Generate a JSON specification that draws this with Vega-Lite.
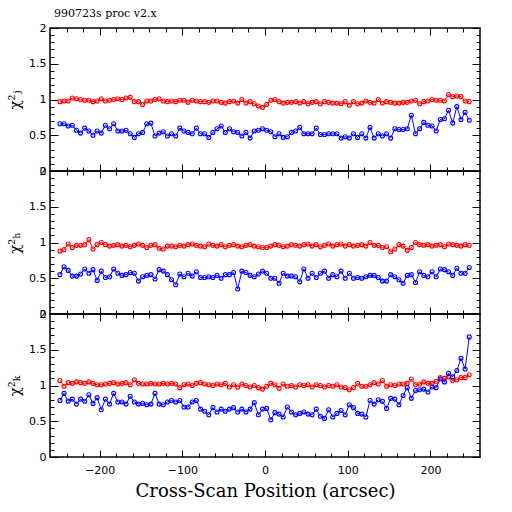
{
  "$schema": "https://vega.github.io/schema/vega-lite/v6.json",
  "autosize": {"type": "pad"},
  "padding": {"left": 6, "top": 7, "right": 0, "bottom": 0},
  "background": "white",
  "spacing": 0,
  "bounds": "flush",
  "config": {
    "view": {"stroke": "black", "strokeWidth": 1.5},
    "axis": {
      "domain": false,
      "grid": false,
      "tickColor": "black",
      "tickWidth": 1,
      "labelColor": "black",
      "labelFont": "DejaVu Sans",
      "labelFontSize": 11,
      "titleColor": "black",
      "titleFontWeight": "normal"
    }
  },
  "datasets": {
    "J": [
      {"x":-248,"s":"r","y":0.97},{"x":-243,"s":"r","y":0.98},{"x":-238,"s":"r","y":0.98},{"x":-233,"s":"r","y":1.02},{"x":-228,"s":"r","y":1.01},{"x":-223,"s":"r","y":1.00},{"x":-218,"s":"r","y":0.99},{"x":-213,"s":"r","y":0.99},{"x":-208,"s":"r","y":0.97},{"x":-203,"s":"r","y":0.98},
      {"x":-198,"s":"r","y":1.01},{"x":-193,"s":"r","y":0.98},{"x":-188,"s":"r","y":0.99},{"x":-183,"s":"r","y":1.00},{"x":-178,"s":"r","y":1.01},{"x":-173,"s":"r","y":1.00},{"x":-168,"s":"r","y":1.02},{"x":-163,"s":"r","y":1.03},{"x":-158,"s":"r","y":0.97},{"x":-153,"s":"r","y":0.97},
      {"x":-148,"s":"r","y":0.93},{"x":-143,"s":"r","y":0.98},{"x":-138,"s":"r","y":0.98},{"x":-133,"s":"r","y":1.00},{"x":-128,"s":"r","y":1.01},{"x":-123,"s":"r","y":0.98},{"x":-118,"s":"r","y":0.97},{"x":-113,"s":"r","y":0.98},{"x":-108,"s":"r","y":0.97},{"x":-103,"s":"r","y":0.99},
      {"x":-98,"s":"r","y":0.99},{"x":-93,"s":"r","y":0.96},{"x":-88,"s":"r","y":0.99},{"x":-83,"s":"r","y":0.98},{"x":-78,"s":"r","y":0.97},{"x":-73,"s":"r","y":0.97},{"x":-68,"s":"r","y":0.96},{"x":-63,"s":"r","y":0.98},{"x":-58,"s":"r","y":0.98},{"x":-53,"s":"r","y":0.96},
      {"x":-48,"s":"r","y":0.95},{"x":-43,"s":"r","y":0.97},{"x":-38,"s":"r","y":0.98},{"x":-33,"s":"r","y":0.95},{"x":-28,"s":"r","y":1.00},{"x":-23,"s":"r","y":0.95},{"x":-18,"s":"r","y":0.97},{"x":-13,"s":"r","y":0.94},{"x":-8,"s":"r","y":0.91},{"x":-3,"s":"r","y":0.89},
      {"x":2,"s":"r","y":0.93},{"x":7,"s":"r","y":0.99},{"x":12,"s":"r","y":1.00},{"x":17,"s":"r","y":0.97},{"x":22,"s":"r","y":0.95},{"x":27,"s":"r","y":0.96},{"x":32,"s":"r","y":0.96},{"x":37,"s":"r","y":0.97},{"x":42,"s":"r","y":0.95},{"x":47,"s":"r","y":0.97},
      {"x":52,"s":"r","y":0.94},{"x":57,"s":"r","y":0.96},{"x":62,"s":"r","y":0.97},{"x":67,"s":"r","y":0.94},{"x":72,"s":"r","y":0.97},{"x":77,"s":"r","y":0.96},{"x":82,"s":"r","y":0.95},{"x":87,"s":"r","y":0.95},{"x":92,"s":"r","y":0.94},{"x":97,"s":"r","y":0.97},
      {"x":102,"s":"r","y":0.92},{"x":107,"s":"r","y":0.97},{"x":112,"s":"r","y":0.94},{"x":117,"s":"r","y":0.95},{"x":122,"s":"r","y":0.98},{"x":127,"s":"r","y":0.96},{"x":132,"s":"r","y":0.95},{"x":137,"s":"r","y":1.00},{"x":142,"s":"r","y":0.95},{"x":147,"s":"r","y":0.97},
      {"x":152,"s":"r","y":0.96},{"x":157,"s":"r","y":0.95},{"x":162,"s":"r","y":0.95},{"x":167,"s":"r","y":0.96},{"x":172,"s":"r","y":0.96},{"x":177,"s":"r","y":0.98},{"x":182,"s":"r","y":0.99},{"x":187,"s":"r","y":0.94},{"x":192,"s":"r","y":0.97},{"x":197,"s":"r","y":0.98},
      {"x":202,"s":"r","y":1.00},{"x":207,"s":"r","y":0.99},{"x":212,"s":"r","y":0.99},{"x":217,"s":"r","y":0.98},{"x":222,"s":"r","y":1.07},{"x":227,"s":"r","y":1.04},{"x":232,"s":"r","y":1.05},{"x":237,"s":"r","y":1.04},{"x":242,"s":"r","y":0.98},{"x":247,"s":"r","y":0.97},
      {"x":-248,"s":"b","y":0.66},{"x":-243,"s":"b","y":0.66},{"x":-238,"s":"b","y":0.63},{"x":-233,"s":"b","y":0.64},{"x":-228,"s":"b","y":0.57},{"x":-223,"s":"b","y":0.53},{"x":-218,"s":"b","y":0.60},{"x":-213,"s":"b","y":0.56},{"x":-208,"s":"b","y":0.50},{"x":-203,"s":"b","y":0.56},
      {"x":-198,"s":"b","y":0.53},{"x":-193,"s":"b","y":0.64},{"x":-188,"s":"b","y":0.59},{"x":-183,"s":"b","y":0.66},{"x":-178,"s":"b","y":0.56},{"x":-173,"s":"b","y":0.56},{"x":-168,"s":"b","y":0.57},{"x":-163,"s":"b","y":0.52},{"x":-158,"s":"b","y":0.47},{"x":-153,"s":"b","y":0.52},
      {"x":-148,"s":"b","y":0.54},{"x":-143,"s":"b","y":0.66},{"x":-138,"s":"b","y":0.67},{"x":-133,"s":"b","y":0.49},{"x":-128,"s":"b","y":0.53},{"x":-123,"s":"b","y":0.55},{"x":-118,"s":"b","y":0.49},{"x":-113,"s":"b","y":0.52},{"x":-108,"s":"b","y":0.49},{"x":-103,"s":"b","y":0.60},
      {"x":-98,"s":"b","y":0.56},{"x":-93,"s":"b","y":0.54},{"x":-88,"s":"b","y":0.52},{"x":-83,"s":"b","y":0.60},{"x":-78,"s":"b","y":0.52},{"x":-73,"s":"b","y":0.52},{"x":-68,"s":"b","y":0.47},{"x":-63,"s":"b","y":0.54},{"x":-58,"s":"b","y":0.59},{"x":-53,"s":"b","y":0.63},
      {"x":-48,"s":"b","y":0.54},{"x":-43,"s":"b","y":0.59},{"x":-38,"s":"b","y":0.55},{"x":-33,"s":"b","y":0.54},{"x":-28,"s":"b","y":0.49},{"x":-23,"s":"b","y":0.54},{"x":-18,"s":"b","y":0.46},{"x":-13,"s":"b","y":0.56},{"x":-8,"s":"b","y":0.57},{"x":-3,"s":"b","y":0.59},
      {"x":2,"s":"b","y":0.57},{"x":7,"s":"b","y":0.55},{"x":12,"s":"b","y":0.48},{"x":17,"s":"b","y":0.52},{"x":22,"s":"b","y":0.47},{"x":27,"s":"b","y":0.48},{"x":32,"s":"b","y":0.54},{"x":37,"s":"b","y":0.56},{"x":42,"s":"b","y":0.61},{"x":47,"s":"b","y":0.52},
      {"x":52,"s":"b","y":0.52},{"x":57,"s":"b","y":0.52},{"x":62,"s":"b","y":0.60},{"x":67,"s":"b","y":0.51},{"x":72,"s":"b","y":0.51},{"x":77,"s":"b","y":0.52},{"x":82,"s":"b","y":0.52},{"x":87,"s":"b","y":0.52},{"x":92,"s":"b","y":0.46},{"x":97,"s":"b","y":0.48},
      {"x":102,"s":"b","y":0.46},{"x":107,"s":"b","y":0.52},{"x":112,"s":"b","y":0.47},{"x":117,"s":"b","y":0.52},{"x":122,"s":"b","y":0.46},{"x":127,"s":"b","y":0.61},{"x":132,"s":"b","y":0.46},{"x":137,"s":"b","y":0.52},{"x":142,"s":"b","y":0.49},{"x":147,"s":"b","y":0.52},
      {"x":152,"s":"b","y":0.46},{"x":157,"s":"b","y":0.59},{"x":162,"s":"b","y":0.58},{"x":167,"s":"b","y":0.58},{"x":172,"s":"b","y":0.59},{"x":177,"s":"b","y":0.78},{"x":182,"s":"b","y":0.52},{"x":187,"s":"b","y":0.59},{"x":192,"s":"b","y":0.68},{"x":197,"s":"b","y":0.64},
      {"x":202,"s":"b","y":0.63},{"x":207,"s":"b","y":0.56},{"x":212,"s":"b","y":0.72},{"x":217,"s":"b","y":0.73},{"x":222,"s":"b","y":0.85},{"x":227,"s":"b","y":0.67},{"x":232,"s":"b","y":0.90},{"x":237,"s":"b","y":0.72},{"x":242,"s":"b","y":0.82},{"x":247,"s":"b","y":0.71}
    ],
    "H": [
      {"x":-248,"s":"r","y":0.88},{"x":-243,"s":"r","y":0.90},{"x":-238,"s":"r","y":0.98},{"x":-233,"s":"r","y":0.93},{"x":-228,"s":"r","y":0.96},{"x":-223,"s":"r","y":0.96},{"x":-218,"s":"r","y":0.97},{"x":-213,"s":"r","y":1.04},{"x":-208,"s":"r","y":0.91},{"x":-203,"s":"r","y":0.97},
      {"x":-198,"s":"r","y":1.00},{"x":-193,"s":"r","y":0.97},{"x":-188,"s":"r","y":0.95},{"x":-183,"s":"r","y":0.96},{"x":-178,"s":"r","y":0.97},{"x":-173,"s":"r","y":0.95},{"x":-168,"s":"r","y":0.96},{"x":-163,"s":"r","y":0.94},{"x":-158,"s":"r","y":0.96},{"x":-153,"s":"r","y":0.98},
      {"x":-148,"s":"r","y":0.96},{"x":-143,"s":"r","y":0.93},{"x":-138,"s":"r","y":0.96},{"x":-133,"s":"r","y":0.97},{"x":-128,"s":"r","y":0.92},{"x":-123,"s":"r","y":0.91},{"x":-118,"s":"r","y":0.95},{"x":-113,"s":"r","y":0.95},{"x":-108,"s":"r","y":0.94},{"x":-103,"s":"r","y":0.96},
      {"x":-98,"s":"r","y":0.95},{"x":-93,"s":"r","y":0.97},{"x":-88,"s":"r","y":0.98},{"x":-83,"s":"r","y":0.96},{"x":-78,"s":"r","y":0.95},{"x":-73,"s":"r","y":0.94},{"x":-68,"s":"r","y":0.98},{"x":-63,"s":"r","y":0.96},{"x":-58,"s":"r","y":0.95},{"x":-53,"s":"r","y":0.97},
      {"x":-48,"s":"r","y":0.94},{"x":-43,"s":"r","y":0.96},{"x":-38,"s":"r","y":0.97},{"x":-33,"s":"r","y":0.95},{"x":-28,"s":"r","y":0.94},{"x":-23,"s":"r","y":0.96},{"x":-18,"s":"r","y":0.97},{"x":-13,"s":"r","y":0.95},{"x":-8,"s":"r","y":0.94},{"x":-3,"s":"r","y":0.93},
      {"x":2,"s":"r","y":0.93},{"x":7,"s":"r","y":0.95},{"x":12,"s":"r","y":0.97},{"x":17,"s":"r","y":0.96},{"x":22,"s":"r","y":0.94},{"x":27,"s":"r","y":0.95},{"x":32,"s":"r","y":0.97},{"x":37,"s":"r","y":0.96},{"x":42,"s":"r","y":0.95},{"x":47,"s":"r","y":0.97},
      {"x":52,"s":"r","y":0.98},{"x":57,"s":"r","y":0.95},{"x":62,"s":"r","y":0.97},{"x":67,"s":"r","y":0.94},{"x":72,"s":"r","y":0.96},{"x":77,"s":"r","y":0.98},{"x":82,"s":"r","y":0.95},{"x":87,"s":"r","y":0.97},{"x":92,"s":"r","y":0.98},{"x":97,"s":"r","y":0.95},
      {"x":102,"s":"r","y":0.97},{"x":107,"s":"r","y":0.95},{"x":112,"s":"r","y":0.96},{"x":117,"s":"r","y":0.97},{"x":122,"s":"r","y":0.95},{"x":127,"s":"r","y":1.00},{"x":132,"s":"r","y":0.96},{"x":137,"s":"r","y":0.96},{"x":142,"s":"r","y":0.93},{"x":147,"s":"r","y":0.94},
      {"x":152,"s":"r","y":0.87},{"x":157,"s":"r","y":0.91},{"x":162,"s":"r","y":0.97},{"x":167,"s":"r","y":0.95},{"x":172,"s":"r","y":0.89},{"x":177,"s":"r","y":0.93},{"x":182,"s":"r","y":1.00},{"x":187,"s":"r","y":0.97},{"x":192,"s":"r","y":0.96},{"x":197,"s":"r","y":0.97},
      {"x":202,"s":"r","y":0.95},{"x":207,"s":"r","y":0.96},{"x":212,"s":"r","y":0.97},{"x":217,"s":"r","y":0.94},{"x":222,"s":"r","y":0.98},{"x":227,"s":"r","y":0.97},{"x":232,"s":"r","y":0.96},{"x":237,"s":"r","y":0.95},{"x":242,"s":"r","y":0.97},{"x":247,"s":"r","y":0.96},
      {"x":-248,"s":"b","y":0.55},{"x":-243,"s":"b","y":0.66},{"x":-238,"s":"b","y":0.61},{"x":-233,"s":"b","y":0.53},{"x":-228,"s":"b","y":0.53},{"x":-223,"s":"b","y":0.56},{"x":-218,"s":"b","y":0.63},{"x":-213,"s":"b","y":0.57},{"x":-208,"s":"b","y":0.62},{"x":-203,"s":"b","y":0.47},
      {"x":-198,"s":"b","y":0.60},{"x":-193,"s":"b","y":0.51},{"x":-188,"s":"b","y":0.52},{"x":-183,"s":"b","y":0.63},{"x":-178,"s":"b","y":0.57},{"x":-173,"s":"b","y":0.54},{"x":-168,"s":"b","y":0.55},{"x":-163,"s":"b","y":0.58},{"x":-158,"s":"b","y":0.57},{"x":-153,"s":"b","y":0.46},
      {"x":-148,"s":"b","y":0.52},{"x":-143,"s":"b","y":0.54},{"x":-138,"s":"b","y":0.55},{"x":-133,"s":"b","y":0.49},{"x":-128,"s":"b","y":0.62},{"x":-123,"s":"b","y":0.60},{"x":-118,"s":"b","y":0.55},{"x":-113,"s":"b","y":0.48},{"x":-108,"s":"b","y":0.41},{"x":-103,"s":"b","y":0.56},
      {"x":-98,"s":"b","y":0.52},{"x":-93,"s":"b","y":0.57},{"x":-88,"s":"b","y":0.53},{"x":-83,"s":"b","y":0.59},{"x":-78,"s":"b","y":0.51},{"x":-73,"s":"b","y":0.51},{"x":-68,"s":"b","y":0.52},{"x":-63,"s":"b","y":0.51},{"x":-58,"s":"b","y":0.54},{"x":-53,"s":"b","y":0.50},
      {"x":-48,"s":"b","y":0.55},{"x":-43,"s":"b","y":0.55},{"x":-38,"s":"b","y":0.58},{"x":-33,"s":"b","y":0.35},{"x":-28,"s":"b","y":0.60},{"x":-23,"s":"b","y":0.58},{"x":-18,"s":"b","y":0.54},{"x":-13,"s":"b","y":0.52},{"x":-8,"s":"b","y":0.56},{"x":-3,"s":"b","y":0.60},
      {"x":2,"s":"b","y":0.57},{"x":7,"s":"b","y":0.50},{"x":12,"s":"b","y":0.50},{"x":17,"s":"b","y":0.43},{"x":22,"s":"b","y":0.57},{"x":27,"s":"b","y":0.53},{"x":32,"s":"b","y":0.53},{"x":37,"s":"b","y":0.52},{"x":42,"s":"b","y":0.45},{"x":47,"s":"b","y":0.63},
      {"x":52,"s":"b","y":0.50},{"x":57,"s":"b","y":0.57},{"x":62,"s":"b","y":0.51},{"x":67,"s":"b","y":0.57},{"x":72,"s":"b","y":0.60},{"x":77,"s":"b","y":0.50},{"x":82,"s":"b","y":0.55},{"x":87,"s":"b","y":0.52},{"x":92,"s":"b","y":0.60},{"x":97,"s":"b","y":0.50},
      {"x":102,"s":"b","y":0.57},{"x":107,"s":"b","y":0.50},{"x":112,"s":"b","y":0.51},{"x":117,"s":"b","y":0.50},{"x":122,"s":"b","y":0.52},{"x":127,"s":"b","y":0.54},{"x":132,"s":"b","y":0.54},{"x":137,"s":"b","y":0.51},{"x":142,"s":"b","y":0.46},{"x":147,"s":"b","y":0.46},
      {"x":152,"s":"b","y":0.55},{"x":157,"s":"b","y":0.52},{"x":162,"s":"b","y":0.48},{"x":167,"s":"b","y":0.43},{"x":172,"s":"b","y":0.54},{"x":177,"s":"b","y":0.55},{"x":182,"s":"b","y":0.44},{"x":187,"s":"b","y":0.59},{"x":192,"s":"b","y":0.54},{"x":197,"s":"b","y":0.52},
      {"x":202,"s":"b","y":0.59},{"x":207,"s":"b","y":0.52},{"x":212,"s":"b","y":0.63},{"x":217,"s":"b","y":0.62},{"x":222,"s":"b","y":0.59},{"x":227,"s":"b","y":0.54},{"x":232,"s":"b","y":0.64},{"x":237,"s":"b","y":0.57},{"x":242,"s":"b","y":0.57},{"x":247,"s":"b","y":0.65}
    ],
    "K": [
      {"x":-248,"s":"r","y":1.07},{"x":-243,"s":"r","y":0.99},{"x":-238,"s":"r","y":1.04},{"x":-233,"s":"r","y":1.03},{"x":-228,"s":"r","y":1.05},{"x":-223,"s":"r","y":1.04},{"x":-218,"s":"r","y":1.03},{"x":-213,"s":"r","y":1.05},{"x":-208,"s":"r","y":1.03},{"x":-203,"s":"r","y":1.01},
      {"x":-198,"s":"r","y":1.01},{"x":-193,"s":"r","y":1.02},{"x":-188,"s":"r","y":1.03},{"x":-183,"s":"r","y":1.04},{"x":-178,"s":"r","y":1.02},{"x":-173,"s":"r","y":1.03},{"x":-168,"s":"r","y":1.04},{"x":-163,"s":"r","y":1.01},{"x":-158,"s":"r","y":1.08},{"x":-153,"s":"r","y":1.03},
      {"x":-148,"s":"r","y":1.02},{"x":-143,"s":"r","y":1.02},{"x":-138,"s":"r","y":1.03},{"x":-133,"s":"r","y":1.02},{"x":-128,"s":"r","y":1.02},{"x":-123,"s":"r","y":1.03},{"x":-118,"s":"r","y":1.02},{"x":-113,"s":"r","y":1.03},{"x":-108,"s":"r","y":1.02},{"x":-103,"s":"r","y":0.97},
      {"x":-98,"s":"r","y":1.01},{"x":-93,"s":"r","y":1.02},{"x":-88,"s":"r","y":1.00},{"x":-83,"s":"r","y":1.03},{"x":-78,"s":"r","y":1.04},{"x":-73,"s":"r","y":1.02},{"x":-68,"s":"r","y":1.01},{"x":-63,"s":"r","y":1.00},{"x":-58,"s":"r","y":1.02},{"x":-53,"s":"r","y":1.01},
      {"x":-48,"s":"r","y":1.03},{"x":-43,"s":"r","y":0.98},{"x":-38,"s":"r","y":1.01},{"x":-33,"s":"r","y":0.98},{"x":-28,"s":"r","y":1.02},{"x":-23,"s":"r","y":1.00},{"x":-18,"s":"r","y":0.98},{"x":-13,"s":"r","y":1.00},{"x":-8,"s":"r","y":0.97},{"x":-3,"s":"r","y":0.95},
      {"x":2,"s":"r","y":0.99},{"x":7,"s":"r","y":1.03},{"x":12,"s":"r","y":1.01},{"x":17,"s":"r","y":0.96},{"x":22,"s":"r","y":1.02},{"x":27,"s":"r","y":0.99},{"x":32,"s":"r","y":1.00},{"x":37,"s":"r","y":0.98},{"x":42,"s":"r","y":1.01},{"x":47,"s":"r","y":1.00},
      {"x":52,"s":"r","y":1.01},{"x":57,"s":"r","y":0.98},{"x":62,"s":"r","y":1.01},{"x":67,"s":"r","y":1.00},{"x":72,"s":"r","y":0.98},{"x":77,"s":"r","y":1.00},{"x":82,"s":"r","y":0.99},{"x":87,"s":"r","y":1.01},{"x":92,"s":"r","y":0.98},{"x":97,"s":"r","y":0.97},
      {"x":102,"s":"r","y":0.94},{"x":107,"s":"r","y":0.97},{"x":112,"s":"r","y":1.03},{"x":117,"s":"r","y":0.99},{"x":122,"s":"r","y":0.99},{"x":127,"s":"r","y":1.01},{"x":132,"s":"r","y":1.04},{"x":137,"s":"r","y":1.02},{"x":142,"s":"r","y":1.07},{"x":147,"s":"r","y":0.99},
      {"x":152,"s":"r","y":1.01},{"x":157,"s":"r","y":1.00},{"x":162,"s":"r","y":1.02},{"x":167,"s":"r","y":1.02},{"x":172,"s":"r","y":1.03},{"x":177,"s":"r","y":1.09},{"x":182,"s":"r","y":1.01},{"x":187,"s":"r","y":1.02},{"x":192,"s":"r","y":1.05},{"x":197,"s":"r","y":1.03},
      {"x":202,"s":"r","y":1.03},{"x":207,"s":"r","y":1.06},{"x":212,"s":"r","y":1.11},{"x":217,"s":"r","y":1.10},{"x":222,"s":"r","y":1.12},{"x":227,"s":"r","y":1.07},{"x":232,"s":"r","y":1.08},{"x":237,"s":"r","y":1.11},{"x":242,"s":"r","y":1.11},{"x":247,"s":"r","y":1.15},
      {"x":-248,"s":"b","y":0.79},{"x":-243,"s":"b","y":0.89},{"x":-238,"s":"b","y":0.78},{"x":-233,"s":"b","y":0.81},{"x":-228,"s":"b","y":0.74},{"x":-223,"s":"b","y":0.81},{"x":-218,"s":"b","y":0.78},{"x":-213,"s":"b","y":0.87},{"x":-208,"s":"b","y":0.75},{"x":-203,"s":"b","y":0.83},
      {"x":-198,"s":"b","y":0.66},{"x":-193,"s":"b","y":0.81},{"x":-188,"s":"b","y":0.74},{"x":-183,"s":"b","y":0.89},{"x":-178,"s":"b","y":0.77},{"x":-173,"s":"b","y":0.77},{"x":-168,"s":"b","y":0.74},{"x":-163,"s":"b","y":0.85},{"x":-158,"s":"b","y":0.77},{"x":-153,"s":"b","y":0.74},
      {"x":-148,"s":"b","y":0.75},{"x":-143,"s":"b","y":0.73},{"x":-138,"s":"b","y":0.74},{"x":-133,"s":"b","y":0.89},{"x":-128,"s":"b","y":0.74},{"x":-123,"s":"b","y":0.73},{"x":-118,"s":"b","y":0.77},{"x":-113,"s":"b","y":0.79},{"x":-108,"s":"b","y":0.77},{"x":-103,"s":"b","y":0.79},
      {"x":-98,"s":"b","y":0.70},{"x":-93,"s":"b","y":0.70},{"x":-88,"s":"b","y":0.77},{"x":-83,"s":"b","y":0.79},{"x":-78,"s":"b","y":0.67},{"x":-73,"s":"b","y":0.64},{"x":-68,"s":"b","y":0.59},{"x":-63,"s":"b","y":0.69},{"x":-58,"s":"b","y":0.63},{"x":-53,"s":"b","y":0.67},
      {"x":-48,"s":"b","y":0.64},{"x":-43,"s":"b","y":0.67},{"x":-38,"s":"b","y":0.69},{"x":-33,"s":"b","y":0.63},{"x":-28,"s":"b","y":0.67},{"x":-23,"s":"b","y":0.63},{"x":-18,"s":"b","y":0.67},{"x":-13,"s":"b","y":0.76},{"x":-8,"s":"b","y":0.59},{"x":-3,"s":"b","y":0.67},
      {"x":2,"s":"b","y":0.68},{"x":7,"s":"b","y":0.52},{"x":12,"s":"b","y":0.62},{"x":17,"s":"b","y":0.60},{"x":22,"s":"b","y":0.56},{"x":27,"s":"b","y":0.70},{"x":32,"s":"b","y":0.63},{"x":37,"s":"b","y":0.59},{"x":42,"s":"b","y":0.61},{"x":47,"s":"b","y":0.63},
      {"x":52,"s":"b","y":0.60},{"x":57,"s":"b","y":0.59},{"x":62,"s":"b","y":0.67},{"x":67,"s":"b","y":0.57},{"x":72,"s":"b","y":0.54},{"x":77,"s":"b","y":0.66},{"x":82,"s":"b","y":0.56},{"x":87,"s":"b","y":0.61},{"x":92,"s":"b","y":0.65},{"x":97,"s":"b","y":0.59},
      {"x":102,"s":"b","y":0.73},{"x":107,"s":"b","y":0.69},{"x":112,"s":"b","y":0.61},{"x":117,"s":"b","y":0.60},{"x":122,"s":"b","y":0.56},{"x":127,"s":"b","y":0.79},{"x":132,"s":"b","y":0.74},{"x":137,"s":"b","y":0.80},{"x":142,"s":"b","y":0.78},{"x":147,"s":"b","y":0.68},
      {"x":152,"s":"b","y":0.82},{"x":157,"s":"b","y":0.81},{"x":162,"s":"b","y":0.73},{"x":167,"s":"b","y":0.86},{"x":172,"s":"b","y":0.97},{"x":177,"s":"b","y":0.82},{"x":182,"s":"b","y":0.93},{"x":187,"s":"b","y":0.94},{"x":192,"s":"b","y":0.95},{"x":197,"s":"b","y":0.91},
      {"x":202,"s":"b","y":0.98},{"x":207,"s":"b","y":0.97},{"x":212,"s":"b","y":1.09},{"x":217,"s":"b","y":1.05},{"x":222,"s":"b","y":1.17},{"x":227,"s":"b","y":1.12},{"x":232,"s":"b","y":1.21},{"x":237,"s":"b","y":1.38},{"x":242,"s":"b","y":1.23},{"x":247,"s":"b","y":1.68}
    ]
  },
  "vconcat": [
    {
      "data": {"name": "J"},
      "width": 430,
      "height": 143,
      "title": {"text": "990723s proc v2.x", "anchor": "start", "frame": "group", "dx": 4, "offset": 3, "font": "DejaVu Serif", "fontSize": 11, "fontWeight": "normal", "color": "black"},
      "layer": [
        {
          "mark": {"type": "line", "strokeWidth": 1, "point": {"filled": false, "size": 16, "strokeWidth": 1.1}},
          "encoding": {
            "x": {"field": "x", "type": "quantitative", "scale": {"domain": [-260, 260], "nice": false},
              "axis": {"orient": "bottom", "labels": false, "title": null, "values": [-240,-220,-200,-180,-160,-140,-120,-100,-80,-60,-40,-20,0,20,40,60,80,100,120,140,160,180,200,220,240],
                "tickSize": {"condition": {"test": "datum.value % 100 === 0", "value": -7}, "value": -4}}},
            "y": {"field": "y", "type": "quantitative", "scale": {"domain": [0, 2], "nice": false, "zero": false},
              "axis": {"orient": "left", "title": "χ²ⱼ", "titleFont": "DejaVu Serif", "titleFontSize": 15, "titlePadding": 6, "labelPadding": 12,
                "values": [0,0.1,0.2,0.3,0.4,0.5,0.6,0.7,0.8,0.9,1,1.1,1.2,1.3,1.4,1.5,1.6,1.7,1.8,1.9,2],
                "labelExpr": "abs(datum.value*2 - round(datum.value*2)) < 0.001 ? '' + datum.value : ''",
                "tickSize": {"condition": {"test": "abs(datum.value*2 - round(datum.value*2)) < 0.001", "value": -8}, "value": -4}}},
            "color": {"field": "s", "type": "nominal", "scale": {"domain": ["r", "b"], "range": ["#ff0000", "#0000ff"]}, "legend": null}
          }
        },
        {
          "mark": {"type": "line", "opacity": 0},
          "encoding": {
            "x": {"field": "x", "type": "quantitative", "scale": {"domain": [-260, 260], "nice": false},
              "axis": {"orient": "top", "labels": false, "title": null, "values": [-240,-220,-200,-180,-160,-140,-120,-100,-80,-60,-40,-20,0,20,40,60,80,100,120,140,160,180,200,220,240],
                "tickSize": {"condition": {"test": "datum.value % 100 === 0", "value": -7}, "value": -4}}},
            "y": {"field": "y", "type": "quantitative", "scale": {"domain": [0, 2], "nice": false, "zero": false},
              "axis": {"orient": "right", "labels": false, "title": null,
                "values": [0,0.1,0.2,0.3,0.4,0.5,0.6,0.7,0.8,0.9,1,1.1,1.2,1.3,1.4,1.5,1.6,1.7,1.8,1.9,2],
                "tickSize": {"condition": {"test": "abs(datum.value*2 - round(datum.value*2)) < 0.001", "value": -8}, "value": -4}}},
            "detail": {"field": "s"}
          }
        }
      ],
      "resolve": {"axis": {"x": "independent", "y": "independent"}}
    },
    {
      "data": {"name": "H"},
      "width": 430,
      "height": 143,
      "layer": [
        {
          "mark": {"type": "line", "strokeWidth": 1, "point": {"filled": false, "size": 16, "strokeWidth": 1.1}},
          "encoding": {
            "x": {"field": "x", "type": "quantitative", "scale": {"domain": [-260, 260], "nice": false},
              "axis": {"orient": "bottom", "labels": false, "title": null, "values": [-240,-220,-200,-180,-160,-140,-120,-100,-80,-60,-40,-20,0,20,40,60,80,100,120,140,160,180,200,220,240],
                "tickSize": {"condition": {"test": "datum.value % 100 === 0", "value": -7}, "value": -4}}},
            "y": {"field": "y", "type": "quantitative", "scale": {"domain": [0, 2], "nice": false, "zero": false},
              "axis": {"orient": "left", "title": "χ²ₕ", "titleFont": "DejaVu Serif", "titleFontSize": 15, "titlePadding": 6, "labelPadding": 12,
                "values": [0,0.1,0.2,0.3,0.4,0.5,0.6,0.7,0.8,0.9,1,1.1,1.2,1.3,1.4,1.5,1.6,1.7,1.8,1.9,2],
                "labelExpr": "abs(datum.value*2 - round(datum.value*2)) < 0.001 ? '' + datum.value : ''",
                "tickSize": {"condition": {"test": "abs(datum.value*2 - round(datum.value*2)) < 0.001", "value": -8}, "value": -4}}},
            "color": {"field": "s", "type": "nominal", "scale": {"domain": ["r", "b"], "range": ["#ff0000", "#0000ff"]}, "legend": null}
          }
        },
        {
          "mark": {"type": "line", "opacity": 0},
          "encoding": {
            "x": {"field": "x", "type": "quantitative", "scale": {"domain": [-260, 260], "nice": false},
              "axis": {"orient": "top", "labels": false, "title": null, "values": [-240,-220,-200,-180,-160,-140,-120,-100,-80,-60,-40,-20,0,20,40,60,80,100,120,140,160,180,200,220,240],
                "tickSize": {"condition": {"test": "datum.value % 100 === 0", "value": -7}, "value": -4}}},
            "y": {"field": "y", "type": "quantitative", "scale": {"domain": [0, 2], "nice": false, "zero": false},
              "axis": {"orient": "right", "labels": false, "title": null,
                "values": [0,0.1,0.2,0.3,0.4,0.5,0.6,0.7,0.8,0.9,1,1.1,1.2,1.3,1.4,1.5,1.6,1.7,1.8,1.9,2],
                "tickSize": {"condition": {"test": "abs(datum.value*2 - round(datum.value*2)) < 0.001", "value": -8}, "value": -4}}},
            "detail": {"field": "s"}
          }
        }
      ],
      "resolve": {"axis": {"x": "independent", "y": "independent"}}
    },
    {
      "data": {"name": "K"},
      "width": 430,
      "height": 143,
      "layer": [
        {
          "mark": {"type": "line", "strokeWidth": 1, "point": {"filled": false, "size": 16, "strokeWidth": 1.1}},
          "encoding": {
            "x": {"field": "x", "type": "quantitative", "scale": {"domain": [-260, 260], "nice": false},
              "axis": {"orient": "bottom", "title": "Cross-Scan Position (arcsec)", "titleFont": "DejaVu Serif", "titleFontSize": 18, "titlePadding": 7, "labelPadding": 14, "format": "d",
                "values": [-240,-220,-200,-180,-160,-140,-120,-100,-80,-60,-40,-20,0,20,40,60,80,100,120,140,160,180,200,220,240],
                "labelExpr": "datum.value % 100 === 0 ? datum.label : ''",
                "tickSize": {"condition": {"test": "datum.value % 100 === 0", "value": -7}, "value": -4}}},
            "y": {"field": "y", "type": "quantitative", "scale": {"domain": [0, 2], "nice": false, "zero": false},
              "axis": {"orient": "left", "title": "χ²ₖ", "titleFont": "DejaVu Serif", "titleFontSize": 15, "titlePadding": 6, "labelPadding": 12,
                "values": [0,0.1,0.2,0.3,0.4,0.5,0.6,0.7,0.8,0.9,1,1.1,1.2,1.3,1.4,1.5,1.6,1.7,1.8,1.9,2],
                "labelExpr": "abs(datum.value*2 - round(datum.value*2)) < 0.001 ? '' + datum.value : ''",
                "tickSize": {"condition": {"test": "abs(datum.value*2 - round(datum.value*2)) < 0.001", "value": -8}, "value": -4}}},
            "color": {"field": "s", "type": "nominal", "scale": {"domain": ["r", "b"], "range": ["#ff0000", "#0000ff"]}, "legend": null}
          }
        },
        {
          "mark": {"type": "line", "opacity": 0},
          "encoding": {
            "x": {"field": "x", "type": "quantitative", "scale": {"domain": [-260, 260], "nice": false},
              "axis": {"orient": "top", "labels": false, "title": null, "values": [-240,-220,-200,-180,-160,-140,-120,-100,-80,-60,-40,-20,0,20,40,60,80,100,120,140,160,180,200,220,240],
                "tickSize": {"condition": {"test": "datum.value % 100 === 0", "value": -7}, "value": -4}}},
            "y": {"field": "y", "type": "quantitative", "scale": {"domain": [0, 2], "nice": false, "zero": false},
              "axis": {"orient": "right", "labels": false, "title": null,
                "values": [0,0.1,0.2,0.3,0.4,0.5,0.6,0.7,0.8,0.9,1,1.1,1.2,1.3,1.4,1.5,1.6,1.7,1.8,1.9,2],
                "tickSize": {"condition": {"test": "abs(datum.value*2 - round(datum.value*2)) < 0.001", "value": -8}, "value": -4}}},
            "detail": {"field": "s"}
          }
        }
      ],
      "resolve": {"axis": {"x": "independent", "y": "independent"}}
    }
  ]
}
